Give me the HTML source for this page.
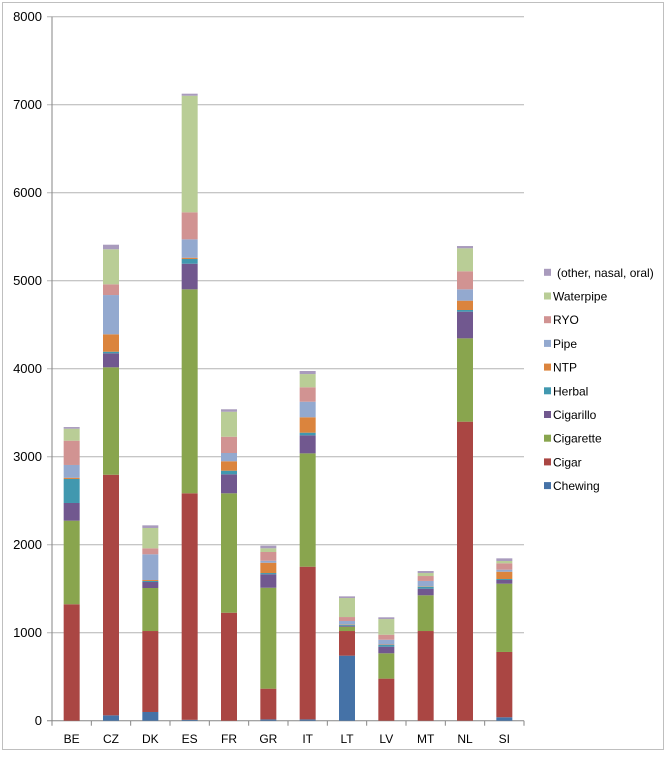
<!DOCTYPE html>
<html><head><meta charset="utf-8"><style>
body{margin:0;background:#fff;font-family:"Liberation Sans",sans-serif}
svg text{font-family:"Liberation Sans",sans-serif;fill:#000}
</style></head><body>
<svg id="c" width="672" height="757">
<rect x="2.5" y="2.5" width="661" height="747" fill="#fff" stroke="#bfbfbf"/>
<g id="grid"></g><g id="bars"></g><g id="axes"></g><g id="legend"></g>
</svg>
<script>
const categories=["BE","CZ","DK","ES","FR","GR","IT","LT","LV","MT","NL","SI"];
const seriesNames=["Chewing","Cigar","Cigarette","Cigarillo","Herbal","NTP","Pipe","RYO","Waterpipe","(other, nasal, oral)"];
const chewing=[0,61,99,10,0,15,15,739,0,0,0,39];
const cigar=[1323,2734,920,2574,1227,349,1735,280,478,1019,3398,742];
const cigarette=[950,1221,489,2318,1357,1147,1288,49,288,406,947,776];
const cigarillo=[201,159,68,291,216,153,205,12,75,75,303,42];
const herbal=[273,18,12,54,41,14,30,11,19,23,19,11];
const ntp=[14,198,11,14,107,117,175,5,5,5,106,83];
const pipe=[145,446,292,209,94,23,177,37,55,60,129,23];
const ryo=[276,122,68,307,185,99,164,45,57,56,205,73];
const waterpipe=[136,398,231,1325,284,42,150,216,178,34,261,26];
const other=[19,52,30,23,28,30,35,19,20,23,26,30];
const yTicks=[0,1000,2000,3000,4000,5000,6000,7000,8000];
const series=[chewing,cigar,cigarette,cigarillo,herbal,ntp,pipe,ryo,waterpipe,other];
const colors=["#4572a7","#aa4643","#89a54e","#71588f","#4198af","#db843d","#93a9cf","#d19392","#b9cd96","#a99bbd"];
const NS="http://www.w3.org/2000/svg";
const X0=52,X1=524,Y0=720.7,Y1=16.7,YMAX=8000;
const band=(X1-X0)/categories.length,bw=16;
const y=v=>Y0-(v/YMAX)*(Y0-Y1);
const xc=i=>X0+band*(i+0.5);
function mk(tag,attrs,parent){const e=document.createElementNS(NS,tag);for(const k in attrs)e.setAttribute(k,attrs[k]);parent.appendChild(e);return e;}
const grid=document.getElementById('grid'),bars=document.getElementById('bars'),axes=document.getElementById('axes'),legend=document.getElementById('legend');
yTicks.forEach(t=>{
 const l=mk('line',{x1:X0-5,x2:X1,y1:y(t),y2:y(t),stroke:t===0?'#868686':'#b3b3b3','stroke-width':1},grid);
 
 
 const tx=mk('text',{x:X0-10,y:y(t)+4.5,'text-anchor':'end','font-size':13},axes);
 tx.textContent=t;
 
 
});
const ax=mk('line',{x1:X0,x2:X0,y1:Y1,y2:Y0,stroke:'#868686'},axes);


for(let i=0;i<=categories.length;i++){
 const tk=mk('line',{x1:X0+band*i,x2:X0+band*i,y1:Y0,y2:Y0+5,stroke:'#868686'},axes);
 
 
}
categories.forEach((c,i)=>{
 let acc=0;
 series.forEach((s,k)=>{
  const v=s[i];if(v<=0)return;
  const r=mk('rect',{x:xc(i)-bw/2,y:y(acc+v),width:bw,height:y(acc)-y(acc+v),fill:colors[k]},bars);
  
  
  acc+=v;
 });
 const t=mk('text',{x:xc(i),y:743,'text-anchor':'middle','font-size':12},axes);
 t.textContent=c;
 
 
});
for(let k=series.length-1;k>=0;k--){
 const idx=series.length-1-k;const cy=272.3+idx*23.7;
 const g=mk('g',{},legend);
 
 
 mk('rect',{x:544,y:cy-3.5,width:7,height:7,fill:colors[k]},g);
 const t=mk('text',{x:k===9?557:553,y:cy+4.5,'font-size':12},g);
 t.textContent=seriesNames[k];
}
</script>
</body></html>
